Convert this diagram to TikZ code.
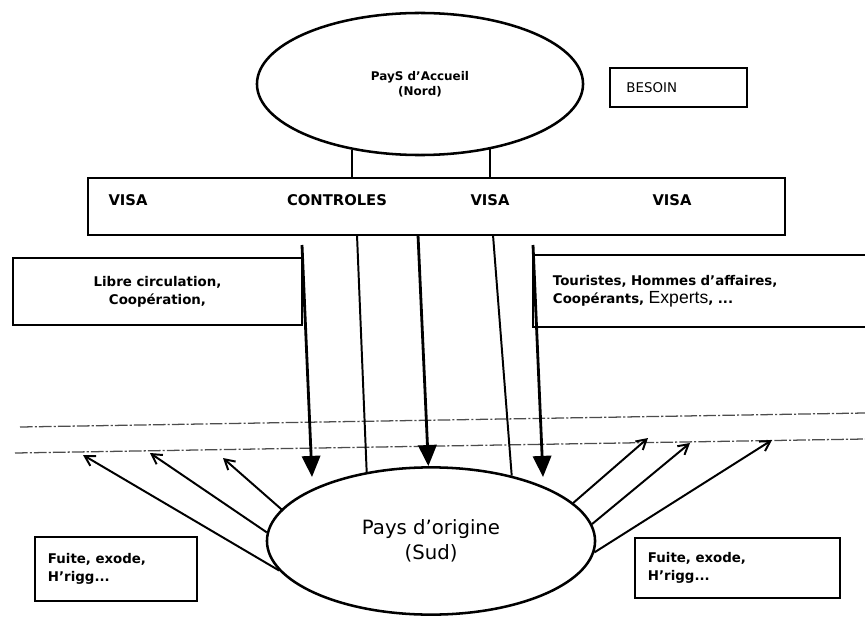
\documentclass[tikz,border=0pt]{standalone}
\usepackage{fontspec}
\setmainfont{DejaVu Sans}
\newfontfamily\arialfont{Liberation Sans}
\usetikzlibrary{arrows.meta,shapes.geometric}

\begin{document}
\begin{tikzpicture}[x=0.025cm,y=-0.025cm,
  pays/.style={draw,ellipse,line width=1.8pt,inner sep=0pt},
  boite/.style={draw,line width=1.3pt},
  lien/.style={line width=1.4pt},
  flux/.style={line width=2pt,-{Triangle[length=15pt,width=13pt]}},
  fuite/.style={line width=1.4pt,-{Straight Barb[length=7pt,width=8pt]}},
  frontiere/.style={line width=0.9pt,black!70,dash pattern=on 9pt off 1.5pt on 1.5pt off 1.5pt},
  petit/.style={font=\fontsize{9.5}{13}\selectfont\bfseries}]
\clip (0,0) rectangle (865,616);

% les deux pays
\node[pays,minimum width=8.15cm,minimum height=3.55cm,align=center,
  font=\fontsize{8.5}{11}\selectfont\bfseries] (nord) at (420,84) {PayS d'Accueil\\(Nord)};
\node[pays,minimum width=8.2cm,minimum height=3.68cm,align=center,
  font=\fontsize{14}{18}\selectfont] (sud) at (431,541) {Pays d'origine\\(Sud)};

\node[boite,minimum height=0.98cm,text width=2.6cm,inner xsep=0.415cm,align=left,
  font=\fontsize{9.5}{11}\selectfont] (besoin) at (678.5,87.5) {BESOIN};

% barriere des visas
\node[boite,minimum width=17.43cm,minimum height=1.425cm] (barre) at (436.5,206.5) {};
\node[font=\fontsize{10.5}{12}\selectfont\bfseries] (visaA) at (128,200) {VISA};
\node[font=\fontsize{10.5}{12}\selectfont\bfseries] (controles) at (337,200) {CONTROLES};
\node[font=\fontsize{10.5}{12}\selectfont\bfseries] (visaB) at (490,200) {VISA};
\node[font=\fontsize{10.5}{12}\selectfont\bfseries] (visaC) at (672,200) {VISA};

\draw[lien] (nord.224) -- (nord.224 |- barre.north);
\draw[lien] (nord.317.5) -- (nord.317.5 |- barre.north);

\node[boite,petit,minimum width=7.225cm,minimum height=1.675cm,align=center] (libre) at (157.5,291.5)
  {Libre circulation,\\Coop\'eration,};
\node[boite,petit,minimum height=1.8cm,text width=7.7cm,inner xsep=0.5cm,align=left] (touristes) at (707,291)
  {Touristes, Hommes d'affaires,\\Coop\'erants, {\arialfont\mdseries\fontsize{12.5}{13}\selectfont Experts}, ...};

\node[boite,petit,minimum height=1.6cm,text width=3.4cm,inner xsep=0.325cm,align=left] (fuiteG) at (116,569)
  {Fuite, exode,\\H'rigg...};
\node[boite,petit,minimum height=1.5cm,text width=4.475cm,inner xsep=0.325cm,align=left] (fuiteD) at (737.5,568)
  {Fuite, exode,\\H'rigg...};

% frontiere
\coordinate (fA1) at (20,427);
\coordinate (fA2) at (865,413);
\coordinate (fB1) at (15,453);
\coordinate (fB2) at (865,439);
\draw[frontiere] (fA1) -- (fA2);
\draw[frontiere] (fB1) -- (fB2);

% flux nord -> sud
\coordinate (hautA) at (302,245);
\coordinate (basA) at (312,477);
\coordinate (hautB) at (357,235);
\coordinate (hautC) at (418,235);
\coordinate (hautD) at (493,235);
\coordinate (hautE) at (533,245);
\coordinate (basE) at (543,477);
\draw[flux] (hautA) -- (basA);
\draw[lien] (hautB) -- (sud.133.3);
\draw[flux] (hautC) -- (sud.92);
\draw[lien] (hautD) -- (sud.39.7);
\draw[flux] (hautE) -- (basE);

% fuite sud -> nord
\foreach \a/\p [count=\i] in {191.7/{83,455}, 177/{150,453}, 168.2/{223,458},
    15.7/{648,438}, 6.9/{690,443}, 356.2/{772,440}} {
  \coordinate (pointe\i) at (\p);
  \draw[fuite] (sud.\a) -- (pointe\i);
}
\end{tikzpicture}
\end{document}
